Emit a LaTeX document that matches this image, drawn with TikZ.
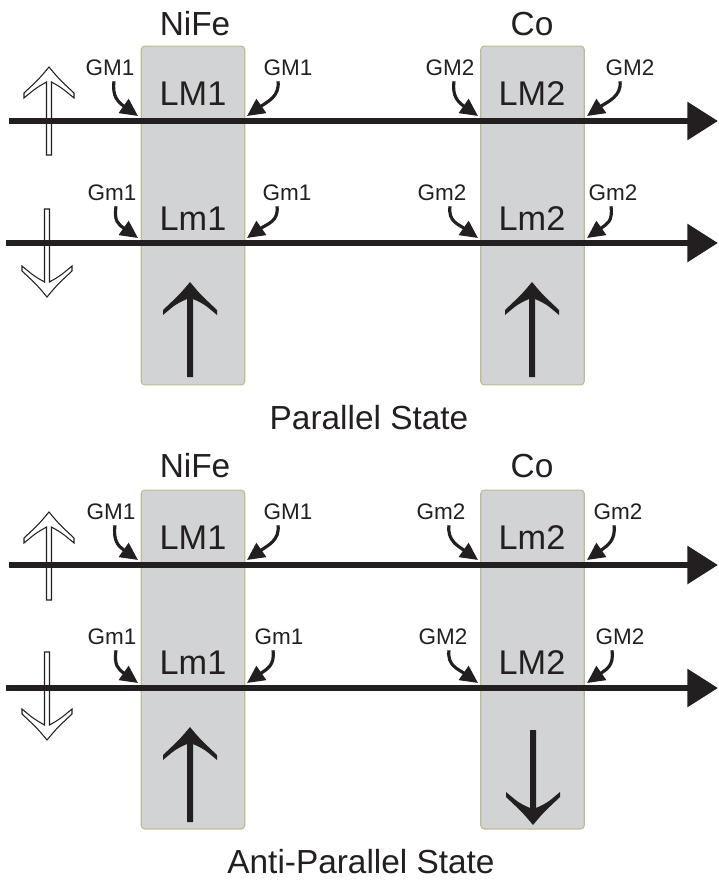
\documentclass[tikz,border=0pt]{standalone}
\usepackage{fontspec}
\setmainfont{Liberation Sans}
\usetikzlibrary{arrows.meta,calc}
\definecolor{layergray}{HTML}{D1D3D4}
\definecolor{layeredge}{HTML}{BFBB90}
\definecolor{ink}{HTML}{231F20}

\begin{document}
\begin{tikzpicture}[x=0.02cm, y=-0.02cm,
		layer/.style={
			rectangle,
			rounded corners=2pt,
			draw=layeredge,
			line width=0.6pt,
			fill=layergray,
			inner sep=0mm,
			minimum width=2.07cm,
			minimum height=6.78cm},
		wire/.style={ink, line width=3.8pt, -{Triangle[length=17.5pt, width=21pt]}},
		hookl/.style={ink, line width=1.8pt, -{Triangle[length=10pt, width=9.5pt]},
			to path={.. controls +(-2,15) and +(-20,-14) .. (\tikztotarget)}},
		hookr/.style={ink, line width=1.8pt, -{Triangle[length=10pt, width=9.5pt]},
			to path={.. controls +(2,15) and +(20,-14) .. (\tikztotarget)}},
		gtag/.style={inner sep=0mm, text=ink, font=\fontsize{12.8}{14}\selectfont},
		ltag/.style={inner sep=0mm, text=ink, font=\fontsize{19.5}{22}\selectfont},
		head/.style={inner sep=0mm, text=ink, font=\fontsize{19}{22}\selectfont},
		pics/spin/.style={code={
			\fill[ink] (0,0) .. controls (-10,12) .. (-27,28) -- (-27,33)
				.. controls (-14,22) .. (-3,17) -- (-3,95) -- (3,95) -- (3,17)
				.. controls (14,22) .. (27,33) -- (27,28) .. controls (10,12) .. (0,0) -- cycle;}},
		pics/hollow/.style={code={
			\filldraw[fill=white, draw=ink, line width=0.6pt] (0,0) .. controls (-10,12) .. (-25,26) -- (-25,31)
				.. controls (-13,21) .. (-2.5,15) -- (-2.5,88) -- (2.5,88) -- (2.5,15)
				.. controls (13,21) .. (25,31) -- (25,26) .. controls (10,12) .. (0,0) -- cycle;}}]
	\useasboundingbox (0,0) rectangle (719,882);

	% parallel state
	\node[layer] (nifeP) at (193,215.5) {};
	\node[layer] (coP) at (532.5,215.5) {};
	\node[head] (nifePt) at (195,24) {NiFe};
	\node[head] (coPt) at (532,24) {Co};
	\node[head] (stateP) at (369,418) {Parallel State};

	\pic at (49,67) {hollow};
	\pic[rotate=180] at (47,297) {hollow};

	\coordinate (wA0) at (9,121);
	\coordinate (wA1) at (718,121);
	\coordinate (wB0) at (6,243);
	\coordinate (wB1) at (718,243);
	\draw[wire] (wA0) -- (wA1);
	\draw[wire] (wB0) -- (wB1);

	\node[ltag] (lA1) at (193,94) {LM1};
	\node[ltag] (lA2) at (532,94) {LM2};
	\node[ltag] (lB1) at (193,219) {Lm1};
	\node[ltag] (lB2) at (532,219) {Lm2};

	\node[gtag] (gA1) at (110,68) {GM1};
	\node[gtag] (gA2) at (288,68) {GM1};
	\node[gtag] (gA3) at (450,68) {GM2};
	\node[gtag] (gA4) at (630,68) {GM2};
	\node[gtag] (gB1) at (112,193) {Gm1};
	\node[gtag] (gB2) at (287,193) {Gm1};
	\node[gtag] (gB3) at (442,193) {Gm2};
	\node[gtag] (gB4) at (613,193) {Gm2};

	\coordinate (tA1) at (138,116);
	\coordinate (tA2) at (247,116);
	\coordinate (tA3) at (478,116);
	\coordinate (tA4) at (587,116);
	\coordinate (tB1) at (138,238);
	\coordinate (tB2) at (247,238);
	\coordinate (tB3) at (478,238);
	\coordinate (tB4) at (587,238);
	\draw[hookl] ($(gA1.south)+(4,5)$) to (tA1);
	\draw[hookr] ($(gA2.south)+(-10,5)$) to (tA2);
	\draw[hookl] ($(gA3.south)+(4,5)$) to (tA3);
	\draw[hookr] ($(gA4.south)+(-10,5)$) to (tA4);
	\draw[hookl] ($(gB1.south)+(4,5)$) to (tB1);
	\draw[hookr] ($(gB2.south)+(-10,5)$) to (tB2);
	\draw[hookl] ($(gB3.south)+(8,5)$) to (tB3);
	\draw[hookr] ($(gB4.south)+(-2,5)$) to (tB4);

	\pic at (190,282) {spin};
	\pic at (532,282) {spin};

	% anti-parallel state
	\node[layer] (nifeA) at (193,659.5) {};
	\node[layer] (coA) at (532.5,659.5) {};
	\node[head] (nifeAt) at (195,466) {NiFe};
	\node[head] (coAt) at (532,466) {Co};
	\node[head] (stateA) at (361,862) {Anti-Parallel State};

	\pic at (49,512) {hollow};
	\pic[rotate=180] at (47,740) {hollow};

	\coordinate (wC0) at (9,565);
	\coordinate (wC1) at (718,565);
	\coordinate (wD0) at (6,688);
	\coordinate (wD1) at (718,688);
	\draw[wire] (wC0) -- (wC1);
	\draw[wire] (wD0) -- (wD1);

	\node[ltag] (lC1) at (193,538) {LM1};
	\node[ltag] (lC2) at (532,538) {Lm2};
	\node[ltag] (lD1) at (193,663) {Lm1};
	\node[ltag] (lD2) at (532,663) {LM2};

	\node[gtag] (gC1) at (111,512) {GM1};
	\node[gtag] (gC2) at (288,512) {GM1};
	\node[gtag] (gC3) at (441,512) {Gm2};
	\node[gtag] (gC4) at (618,512) {Gm2};
	\node[gtag] (gD1) at (112,637) {Gm1};
	\node[gtag] (gD2) at (279,637) {Gm1};
	\node[gtag] (gD3) at (443,637) {GM2};
	\node[gtag] (gD4) at (620,637) {GM2};

	\coordinate (tC1) at (138,560);
	\coordinate (tC2) at (247,560);
	\coordinate (tC3) at (478,560);
	\coordinate (tC4) at (587,560);
	\coordinate (tD1) at (138,683);
	\coordinate (tD2) at (247,683);
	\coordinate (tD3) at (478,683);
	\coordinate (tD4) at (587,683);
	\draw[hookl] ($(gC1.south)+(4,5)$) to (tC1);
	\draw[hookr] ($(gC2.south)+(-10,5)$) to (tC2);
	\draw[hookl] ($(gC3.south)+(8,5)$) to (tC3);
	\draw[hookr] ($(gC4.south)+(-4,5)$) to (tC4);
	\draw[hookl] ($(gD1.south)+(4,5)$) to (tD1);
	\draw[hookr] ($(gD2.south)+(-6,5)$) to (tD2);
	\draw[hookl] ($(gD3.south)+(6,5)$) to (tD3);
	\draw[hookr] ($(gD4.south)+(-8,5)$) to (tD4);

	\pic at (190,727) {spin};
	\pic[rotate=180] at (533,825) {spin};
\end{tikzpicture}
\end{document}
